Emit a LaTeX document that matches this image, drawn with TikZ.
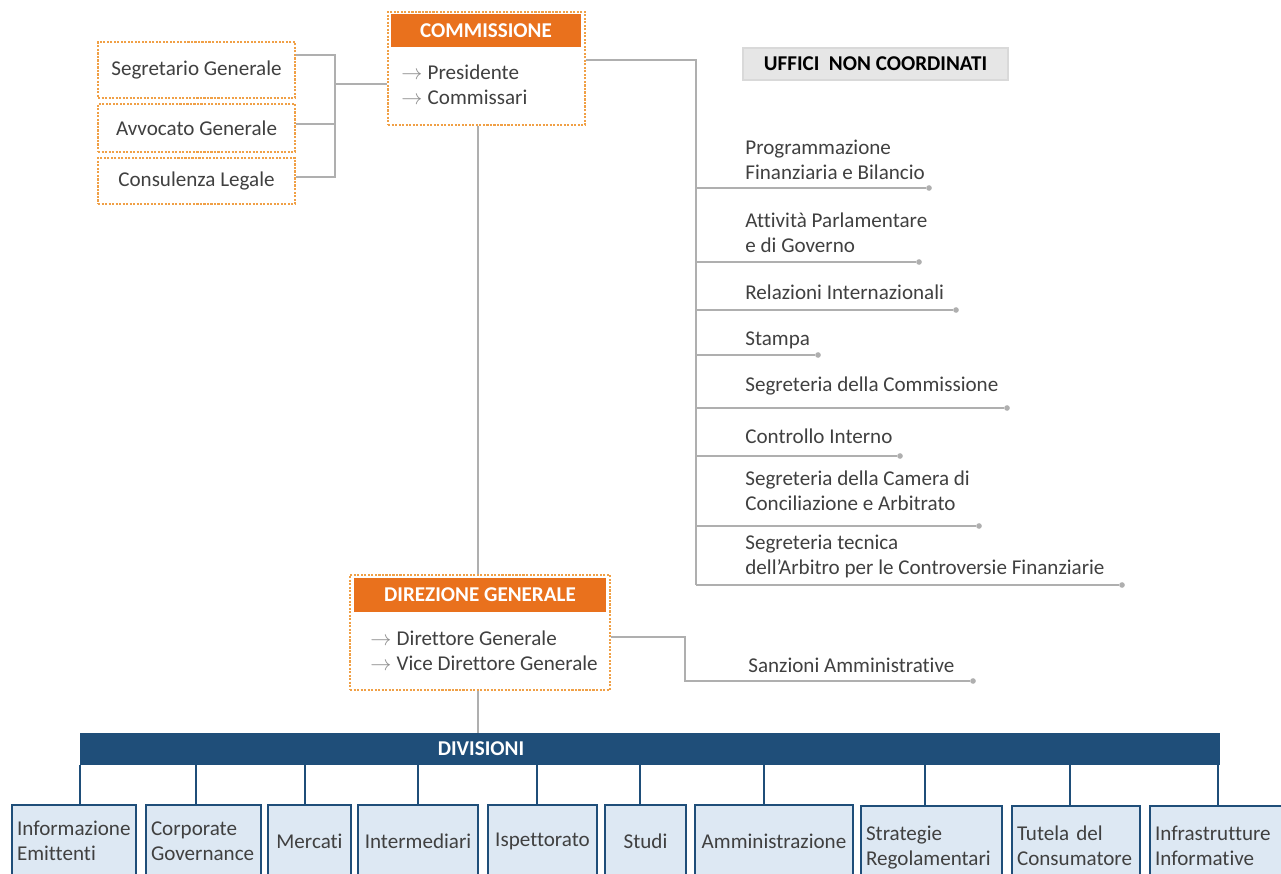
\documentclass[tikz,border=0pt]{standalone}
\usepackage{fontspec}
\setmainfont[Ligatures=NoCommon]{Carlito}
\usepackage{tikz}
\usepackage{xcolor}
\usetikzlibrary{positioning}
\definecolor{headorange}{HTML}{E9711D}
\definecolor{dashorange}{HTML}{F0A046}
\definecolor{linegray}{HTML}{AFAFAF}
\definecolor{textgray}{HTML}{404040}
\definecolor{divblue}{HTML}{1F4E79}
\definecolor{divfill}{HTML}{DDE8F3}
\definecolor{ufficigray}{HTML}{E6E6E6}
\newcommand{\itemarrow}{\textcolor{linegray!80!black}{$\rightarrow$}\hspace{3pt}}

\begin{document}
\begin{tikzpicture}[x=0.02cm, y=-0.02cm,
    font=\fontsize{12}{14.2}\selectfont, text=textgray,
    officebox/.style={draw=dashorange, dash pattern=on 1.2pt off 0.8pt, line width=0.7pt, fill=white, minimum width=3.94cm},
    panel/.style={draw=dashorange, dash pattern=on 1.2pt off 0.8pt, line width=0.7pt, fill=white},
    headbar/.style={fill=headorange, text=white, inner sep=0pt, font=\fontsize{12}{14.2}\selectfont\bfseries},
    itemlist/.style={anchor=west, align=left, inner sep=0pt},
    unitlabel/.style={anchor=west, align=left, inner sep=0pt},
    link/.style={draw=linegray, line width=1pt},
    enddot/.style={circle, fill=linegray, inner sep=0pt, minimum size=3.2pt},
    divbox/.style={draw=divblue, line width=1.2pt, fill=divfill, minimum height=1.44cm, inner xsep=0.1cm},
    lowbox/.style={divbox, anchor=north, inner ysep=0.4cm, align=left},
    droplink/.style={draw=divblue, line width=1.1pt}]
            \useasboundingbox (0,0) rectangle (1281,874);
            \clip (0,0) rectangle (1281,874);

            \node[officebox, minimum height=1.12cm] (segretario) at (196.5,70) {Segretario Generale};
            \node[officebox, minimum height=0.96cm] (avvocato) at (196.5,128) {Avvocato\ Generale};
            \node[officebox, minimum height=0.92cm] (consulenza) at (196.5,181) {Consulenza Legale};

            \node[panel, minimum width=3.94cm, minimum height=2.26cm] (commissione) at (486.5,68.5) {};
            \node[headbar, minimum width=3.8cm, minimum height=0.66cm] (commhead) at (486,30.5) {COMMISSIONE};
            \node[itemlist] (commitems) at (401,84.5) {\itemarrow Presidente\\\itemarrow Commissari};

            \node[fill=ufficigray, draw=black!15, line width=0.8pt, minimum width=5.3cm, minimum height=0.64cm, text=black, font=\fontsize{12}{14.2}\selectfont\bfseries] (uffici) at (875.5,64) {UFFICI\ \ NON COORDINATI};

            \node[panel, minimum width=5.2cm, minimum height=2.3cm] (direzione) at (480,632.5) {};
            \node[headbar, minimum width=5.04cm, minimum height=0.68cm] (dirhead) at (480,595) {DIREZIONE GENERALE};
            \node[itemlist] (diritems) at (370,650.5) {\itemarrow Direttore Generale\\\itemarrow Vice Direttore Generale};

            \node[unitlabel] (programmazione) at (745,160) {Programmazione\\Finanziaria e Bilancio};
            \node[unitlabel] (attivita) at (745,233) {Attività Parlamentare\\e di Governo};
            \node[unitlabel] (relazioni) at (745,292) {Relazioni Internazionali};
            \node[unitlabel] (stampa) at (745,340) {Stampa};
            \node[unitlabel] (segcommissione) at (745,386) {Segreteria della Commissione};
            \node[unitlabel] (controllo) at (745,436) {Controllo Interno};
            \node[unitlabel] (camera) at (745,490.5) {Segreteria della Camera di\\Conciliazione e Arbitrato};
            \node[unitlabel] (tecnica) at (745,556) {Segreteria tecnica\\dell’Arbitro per le Controversie Finanziarie};
            \node[unitlabel] (sanzioni) at (748,665) {Sanzioni Amministrative};

            \node[enddot] (dprog) at (929,188) {};
            \node[enddot] (dattivita) at (919,262) {};
            \node[enddot] (drelazioni) at (956,310) {};
            \node[enddot] (dstampa) at (818,355) {};
            \node[enddot] (dsegcomm) at (1007,408) {};
            \node[enddot] (dcontrollo) at (900,456) {};
            \node[enddot] (dcamera) at (979,526) {};
            \node[enddot] (dtecnica) at (1122,585) {};
            \node[enddot] (dsanzioni) at (973,681) {};

            \node[fill=divblue, minimum width=22.8cm, minimum height=0.64cm, inner sep=0pt] (divisioni) at (650,749) {};
            \node[text=white, font=\fontsize{12}{14.2}\selectfont\bfseries] (divtitle) at (481,749) {DIVISIONI};

            \node[divbox, minimum width=2.48cm, text width=2.28cm, align=left] (infoemittenti) at (74,841) {Informazione\\Emittenti};
            \node[divbox, minimum width=2.26cm, text width=2.1cm, align=left] (corpgov) at (203.5,841) {Corporate\\Governance};
            \node[divbox, minimum width=1.66cm] (mercati) at (309.5,841) {Mercati};
            \node[divbox, minimum width=2.4cm] (intermediari) at (418,841) {Intermediari};
            \node[divbox, minimum width=2.18cm] (ispettorato) at (542.5,841) {Ispettorato};
            \node[divbox, minimum width=1.62cm] (studi) at (645.5,841) {Studi};
            \node[divbox, minimum width=3.16cm] (amministrazione) at (774,841) {Amministrazione};
            \node[lowbox, minimum width=2.82cm, text width=2.62cm] (strategie) at (931.5,805) {Strategie\\Regolamentari};
            \node[lowbox, minimum width=2.56cm, text width=2.36cm] (tutela) at (1076,805) {Tutela del\\Consumatore};
            \node[lowbox, minimum width=2.8cm, text width=2.6cm] (infrastrutture) at (1220,805) {Infrastrutture\\Informative};

            \coordinate (leftbus) at (335,84);
            \coordinate (segout) at ([yshift=0.3cm]segretario.east);
            \coordinate (avvout) at ([yshift=0.08cm]avvocato.east);
            \coordinate (conout) at ([yshift=0.08cm]consulenza.east);
            \draw[link] (segout) -| (conout -| leftbus) -- (conout);
            \draw[link] (avvout) -- (avvout -| leftbus);
            \draw[link] (leftbus) -- (commissione.west |- leftbus);

            \coordinate (spine) at (478,0);
            \draw[link] (commissione.south -| spine) -- (direzione.north -| spine);
            \draw[link] (direzione.south -| spine) -- (divisioni.north -| spine);

            \coordinate (trunk) at (696,60);
            \draw[link] (commissione.east |- trunk) -- (trunk) -- (trunk |- dtecnica);
            \foreach \d in {dprog, dattivita, drelazioni, dstampa, dsegcomm, dcontrollo, dcamera, dtecnica}
                \draw[link] (trunk |- \d) -- (\d);

            \coordinate (sanzbend) at (685,637);
            \draw[link] (direzione.east |- sanzbend) -- (sanzbend) |- (dsanzioni);

            \foreach \b/\x in {infoemittenti/80, corpgov/196, mercati/305, intermediari/418, ispettorato/537, studi/640, amministrazione/764, strategie/925, tutela/1070, infrastrutture/1218}
                \draw[droplink] (divisioni.south -| \x,0) -- (\b.north -| \x,0);
\end{tikzpicture}
\end{document}
